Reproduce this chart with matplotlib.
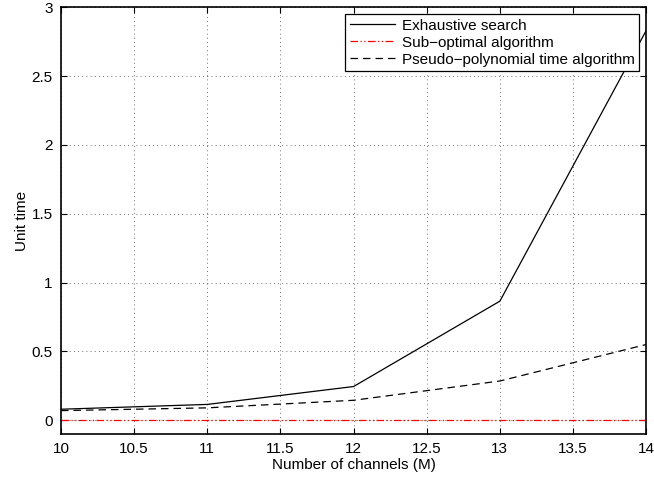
import matplotlib
matplotlib.use("Agg")
import matplotlib.pyplot as plt

plt.rcParams['font.family'] = ['Liberation Sans', 'DejaVu Sans']

channels = [10, 11, 12, 13, 14]
exhaustive = [0.08, 0.115, 0.245, 0.865, 2.83]
sub_optimal = [0.003, 0.003, 0.003, 0.003, 0.003]
pseudo_poly = [0.07, 0.09, 0.145, 0.285, 0.55]

xticks = [10, 10.5, 11, 11.5, 12, 12.5, 13, 13.5, 14]
xticklabels = ['10', '10.5', '11', '11.5', '12', '12.5', '13', '13.5', '14']
yticks = [0, 0.5, 1, 1.5, 2, 2.5, 3]
yticklabels = ['0', '0.5', '1', '1.5', '2', '2.5', '3']

fig = plt.figure(figsize=(6.54, 4.8), dpi=100)
ax = fig.add_axes([0.0933, 0.0958, 0.8947, 0.8892])

ax.plot(channels, exhaustive, color='black', lw=0.9, label='Exhaustive search')
ax.plot(channels, sub_optimal, color='red', lw=0.9,
        dashes=(6, 2, 1, 2, 1, 2), label='Sub\u2212optimal algorithm')
ax.plot(channels, pseudo_poly, color='black', lw=0.9, dashes=(6, 4),
        label='Pseudo\u2212polynomial time algorithm')

ax.set_xlim(10, 14)
ax.set_ylim(-0.1, 3)
ax.set_xticks(xticks)
ax.set_xticklabels(xticklabels)
ax.set_yticks(yticks)
ax.set_yticklabels(yticklabels)
ax.tick_params(direction='in', top=True, right=True, labelsize=11, length=4, width=0.8)
ax.tick_params(axis='x', pad=6)
ax.tick_params(axis='y', pad=6)
ax.grid(True, linestyle=(0, (1, 4)), color='#444444', lw=0.6)
for s in ax.spines.values():
    s.set_linewidth(1.2)

ax.set_xlabel('Number of channels (M)', fontsize=11, labelpad=1)
ax.set_ylabel('Unit time', fontsize=11, labelpad=2)

leg = ax.legend(loc='upper right', fontsize=11, fancybox=False, framealpha=1,
                edgecolor='black', borderpad=0.3, labelspacing=0.2,
                handlelength=2.95, handletextpad=0.45, borderaxespad=0.45)
leg.get_frame().set_linewidth(0.9)

fig.savefig('out.png', dpi=100)
